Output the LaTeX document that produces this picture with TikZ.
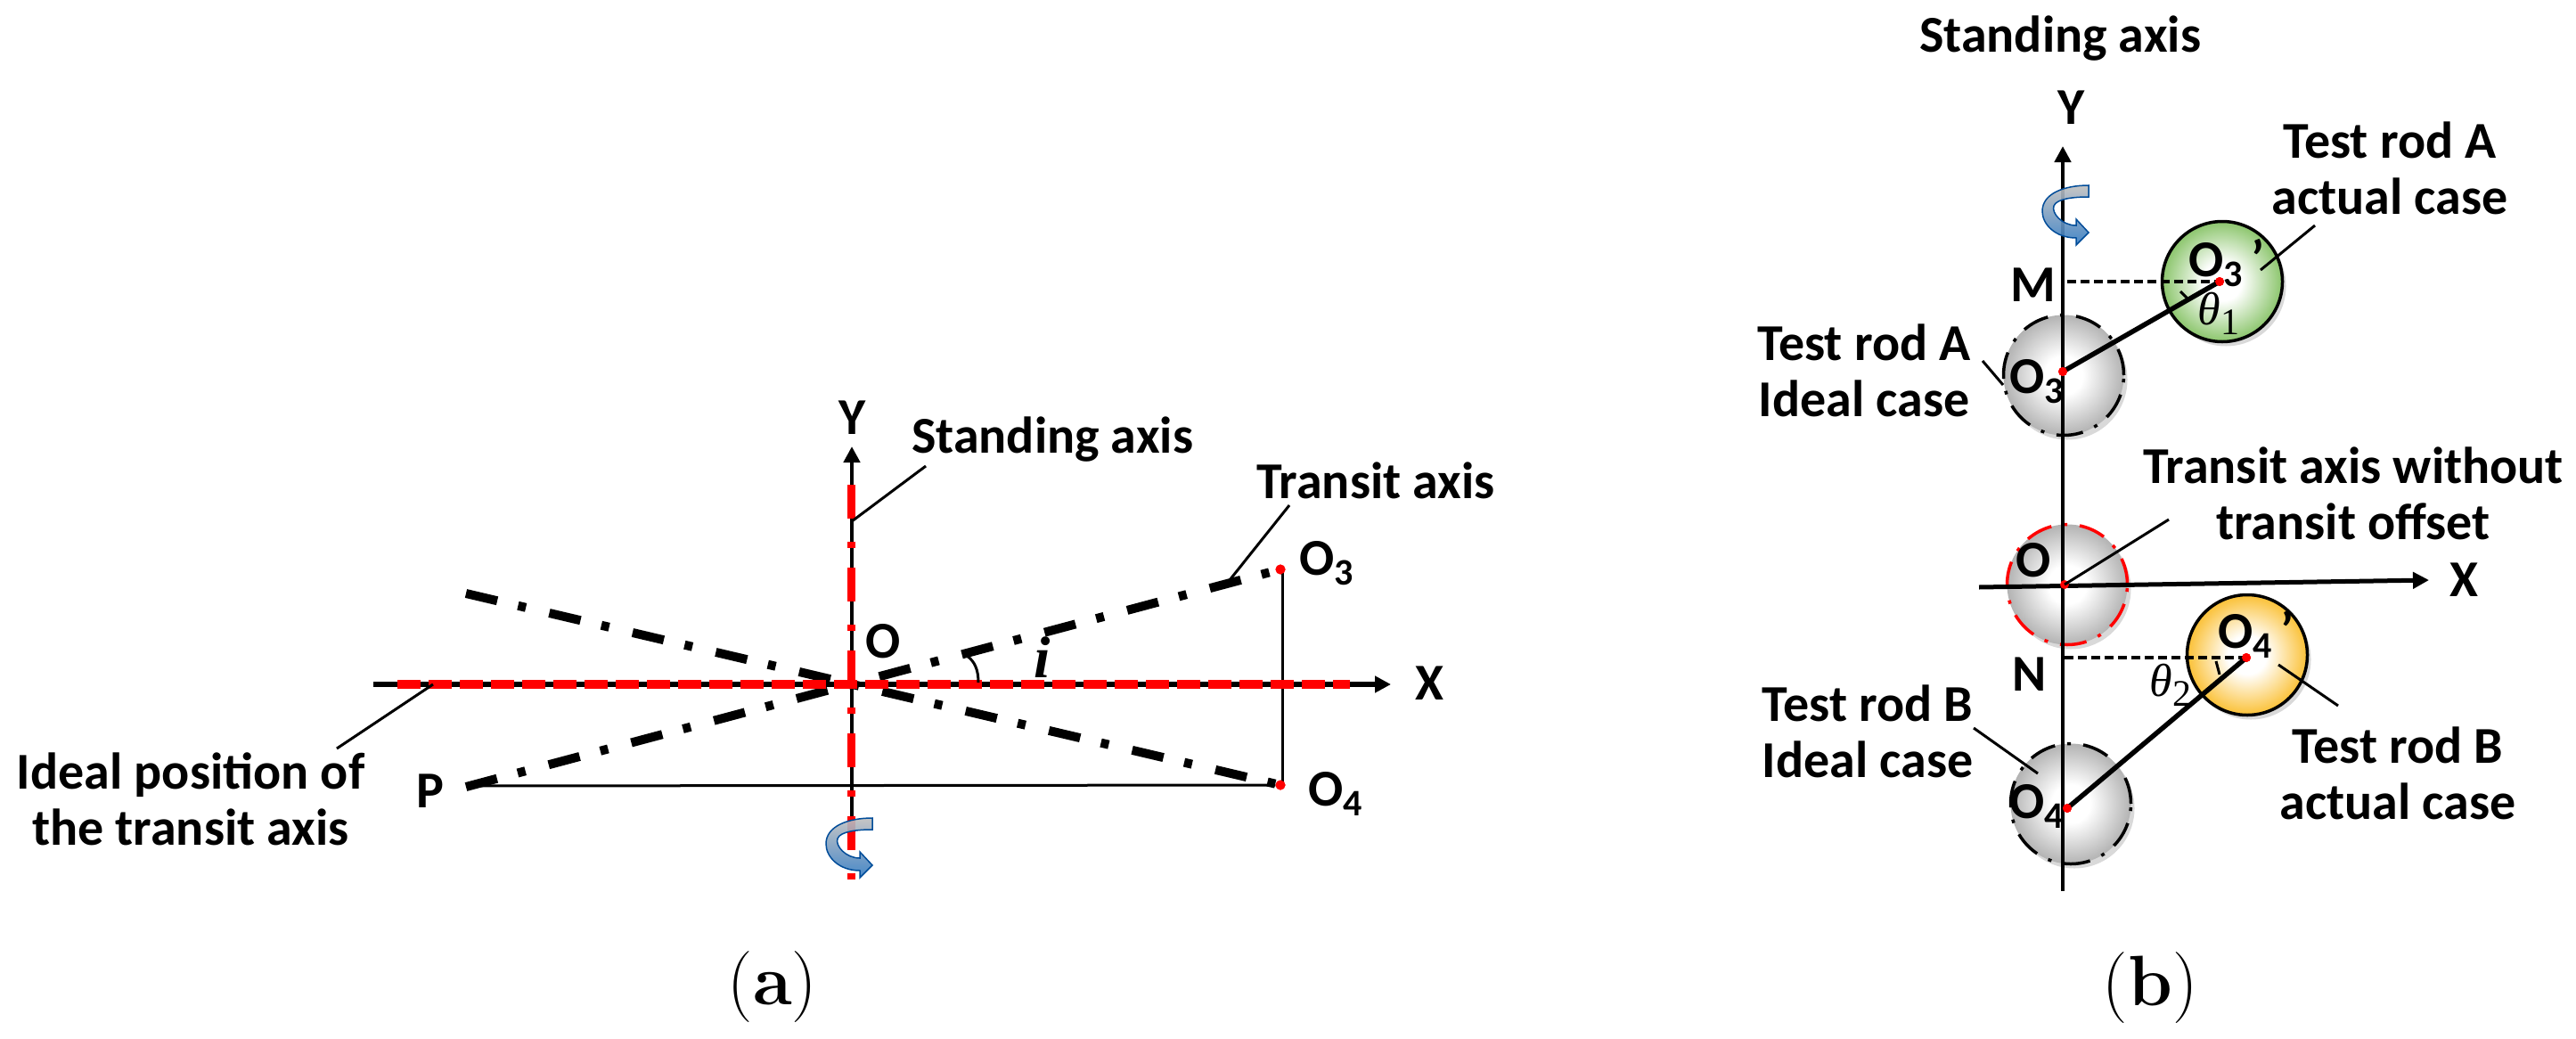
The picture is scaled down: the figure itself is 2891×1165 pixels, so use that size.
\documentclass[tikz,border=0pt]{standalone}
\usepackage{fontspec}
\usetikzlibrary{arrows.meta,shadows}
\newfontfamily\labfont{Carlito}
\newfontfamily\grkfont{Liberation Serif}
\newcommand{\labsub}[1]{\raisebox{-.2em}{\fontsize{42pt}{42pt}\selectfont #1}}
\definecolor{redax}{RGB}{255,0,0}
\definecolor{edgegray}{RGB}{170,170,170}
\definecolor{edgegrn}{RGB}{125,190,90}
\definecolor{edgeyel}{RGB}{250,185,30}
\pgfdeclareradialshading{rodgray}{\pgfpoint{0bp}{0bp}}{color(0bp)=(white);color(8bp)=(white);color(27bp)=(edgegray);color(50bp)=(edgegray)}
\pgfdeclareradialshading{rodgrn}{\pgfpoint{0bp}{0bp}}{color(0bp)=(white);color(8bp)=(white);color(27bp)=(edgegrn);color(50bp)=(edgegrn)}
\pgfdeclareradialshading{rodyel}{\pgfpoint{0bp}{0bp}}{color(0bp)=(white);color(8bp)=(white);color(27bp)=(edgeyel);color(50bp)=(edgeyel)}
\tikzset{
  x=1pt,y=-1pt,
  lab/.style={inner sep=0pt,align=center,font=\fontsize{58pt}{63pt}\selectfont\labfont\bfseries,text=black},
  captext/.style={inner sep=0pt,font=\fontsize{80pt}{80pt}\selectfont},
  thinl/.style={line width=3pt,black},
  axisl/.style={line width=#1,black,-{Triangle[width=18pt,length=18pt]}},
  dashdotl/.style={line width=10pt,black,dash pattern=on 36pt off 24pt on 9pt off 27pt},
  reddash/.style={line width=9.5pt,redax,dash pattern=on 25.5pt off 9.5pt},
  redchain/.style={line width=9pt,redax,dash pattern=on 38pt off 26pt on 7pt off 22pt},
  pt/.style={circle,fill=redax,inner sep=0pt,minimum size=11pt},
  rod/.style={circle,minimum size=135pt,inner sep=0pt,line width=3.5pt,
     drop shadow={shadow xshift=4pt,shadow yshift=-5pt,opacity=.3}},
  ideal/.style={rod,draw=#1,shading=rodgray,dash pattern=on 30pt off 14pt on 4pt off 14pt},
  actual/.style={rod,draw=black,shading=#1},
  rodline/.style={line width=5.5pt,black},
  hdash/.style={line width=4.5pt,black,dash pattern=on 10pt off 5pt},
  rotarrow/.pic={
    \draw[line width=1.5pt,draw=blue!50!cyan!60!black,top color=black!25,bottom color=blue!50!cyan!70!black!80,fill opacity=.9]
      (52,1) .. controls (25,1) and (0,10) .. (0,30) .. controls (0,45) and (15,60) .. (38,60)
      -- (38,68) -- (52,54) -- (38,39) -- (38,46) .. controls (22,46) and (10,32) .. (13,24)
      .. controls (16,16) and (35,14) .. (52,14) -- cycle;
  }
}
\begin{document}
\begin{tikzpicture}
\useasboundingbox (0,0) rectangle (2891,1165);
% ---------- (a) ----------
\coordinate (xl) at (419,768);
\coordinate (xr) at (1561,768);
\coordinate (yb) at (956,925);
\coordinate (yt) at (956,501);
\coordinate (rl) at (446,768);
\coordinate (rr) at (1515,768);
\coordinate (rt) at (955,544);
\coordinate (rb) at (955,1000);
\coordinate (pa) at (523,883);
\coordinate (pb) at (523,666);
\node[pt] (o3a) at (1437,639) {};
\node[pt] (o4a) at (1437,881) {};
\coordinate (pl) at (523,882);
\draw[thinl] (pl) -- (o4a);
\draw[thinl] (1439,639) coordinate (v1) -- (1439,881) coordinate (v2);
\draw[axisl=6.5pt] (xl) -- (xr);
\draw[axisl=4.5pt] (yb) -- (yt);
\draw[dashdotl] (pa) -- (o3a.center);
\draw[dashdotl] (pb) -- (o4a.center);
\draw[reddash] (rl) -- (rr);
\draw[redchain] (rt) -- (rb);
\node[pt] at (o3a) {};
\node[pt] at (o4a) {};
\pic at (927,917) {rotarrow};
\node[lab] (ya) at (957,469) {Y};
\node[lab] (xa) at (1604,767) {X};
\node[lab] (oa) at (991,720) {O};
\node[lab] (pla) at (483,888) {P};
\node[lab,anchor=west] (o3la) at (1458,632) {O\labsub{3}};
\node[lab,anchor=west] (o4la) at (1468,891) {O\labsub{4}};
\node[lab] (sa) at (1181,493) {Standing axis};
\node[lab] (ta) at (1544,539) {Transit axis};
\node[lab] (ida) at (214,897) {Ideal position of\\the transit axis};
\node[inner sep=0pt,font=\fontsize{66pt}{66pt}\selectfont\grkfont\itshape\bfseries] (ia) at (1170,738) {i};
\coordinate (s1) at (1039,523);
\coordinate (s2) at (956,585);
\coordinate (t1) at (1447,567);
\coordinate (t2) at (1380,651);
\coordinate (d1) at (486,768);
\coordinate (d2) at (378,840);
\draw[thinl] (s1) -- (s2);
\draw[thinl] (t1) -- (t2);
\draw[thinl] (d1) -- (d2);
\coordinate (ang1) at (1085,736);
\coordinate (ang2) at (1098,766);
\draw[thinl] (ang1) .. controls (1094,742) and (1098,752) .. (ang2);
\node[captext] (capa) at (867,1108) {(\textbf{a})};
% ---------- (b) ----------
\node[ideal=black] (ca) at (2316,421) {};
\node[ideal=redax] (co) at (2320,656) {};
\node[ideal=black] (cb) at (2324,902) {};
\node[actual=rodgrn] (cga) at (2494,316) {};
\node[actual=rodyel] (cyb) at (2522,735) {};
\coordinate (ybb) at (2315,1000);
\coordinate (ybt) at (2315,164);
\draw[axisl=4.5pt] (ybb) -- (ybt);
\pic at (2292,207) {rotarrow};
\coordinate (xbl) at (2221,659);
\coordinate (xbr) at (2726,651);
\draw[axisl=5pt] (xbl) -- (xbr);
\node[pt,minimum size=10pt] (o3i) at (2315,417) {};
\node[pt,minimum size=10pt] (o3p) at (2491,316) {};
\node[pt,minimum size=10pt] (oo) at (2317,656) {};
\node[pt,minimum size=10pt] (o4p) at (2521,738) {};
\node[pt,minimum size=10pt] (o4i) at (2320,907) {};
\coordinate (mm) at (2320,316);
\coordinate (nn) at (2317,738);
\draw[hdash] (mm) -- (o3p.center);
\draw[hdash] (nn) -- (o4p.center);
\draw[rodline] (o3i.center) -- (o3p.center);
\draw[rodline] (o4i.center) -- (o4p.center);
\node[pt,minimum size=10pt] at (o3i) {};
\node[pt,minimum size=10pt] at (o3p) {};
\node[pt,minimum size=10pt] at (o4p) {};
\node[pt,minimum size=10pt] at (o4i) {};
\coordinate (aa1) at (2447,327);
\coordinate (aa2) at (2456,336);
\draw[thinl] (aa1) -- (aa2);
\coordinate (ab1) at (2487,742);
\coordinate (ab2) at (2491,757);
\draw[thinl] (ab1) -- (ab2);
\node[lab] (sb) at (2312,43) {Standing axis};
\node[lab] (yb2) at (2325,121) {Y};
\node[lab] (xb2) at (2765,651) {X};
\node[lab] (mb) at (2282,320) {M};
\node[lab] (nb) at (2278,757) {N};
\node[lab] (ob) at (2282,629) {O};
\node[lab,anchor=west] (o3b) at (2255,428) {O\labsub{3}};
\node[lab,anchor=west] (o4b) at (2255,905) {O\labsub{4}};
\node[lab,anchor=west] (o3pb) at (2456,295) {O\labsub{3}\,’};
\node[lab,anchor=west] (o4pb) at (2489,712) {O\labsub{4}\,’};
\node[inner sep=0pt,font=\fontsize{52pt}{52pt}\selectfont\grkfont] (th1) at (2490,352) {\textit{θ}\labsub{1}};
\node[inner sep=0pt,font=\fontsize{52pt}{52pt}\selectfont\grkfont] (th2) at (2436,769) {\textit{θ}\labsub{2}};
\node[lab] (ra) at (2682,189) {Test rod A\\actual case};
\node[lab] (la) at (2092,416) {Test rod A\\Ideal case};
\node[lab] (tr) at (2641,554) {Transit axis without\\transit offset};
\node[lab] (lb) at (2096,821) {Test rod B\\Ideal case};
\node[lab] (rbb) at (2691,868) {Test rod B\\actual case};
\coordinate (l1a) at (2598,253);
\coordinate (l1b) at (2537,303);
\coordinate (l2a) at (2225,405);
\coordinate (l2b) at (2248,432);
\coordinate (l3a) at (2434,583);
\coordinate (l4a) at (2215,817);
\coordinate (l4b) at (2287,868);
\coordinate (l5a) at (2557,746);
\coordinate (l5b) at (2624,792);
\draw[thinl] (l1a) -- (l1b);
\draw[thinl] (l2a) -- (l2b);
\draw[thinl] (l3a) -- (oo.center);
\draw[thinl] (l4a) -- (l4b);
\draw[thinl] (l5a) -- (l5b);
\node[captext] (capb) at (2413,1109) {(\textbf{b})};
\end{tikzpicture}
\end{document}
